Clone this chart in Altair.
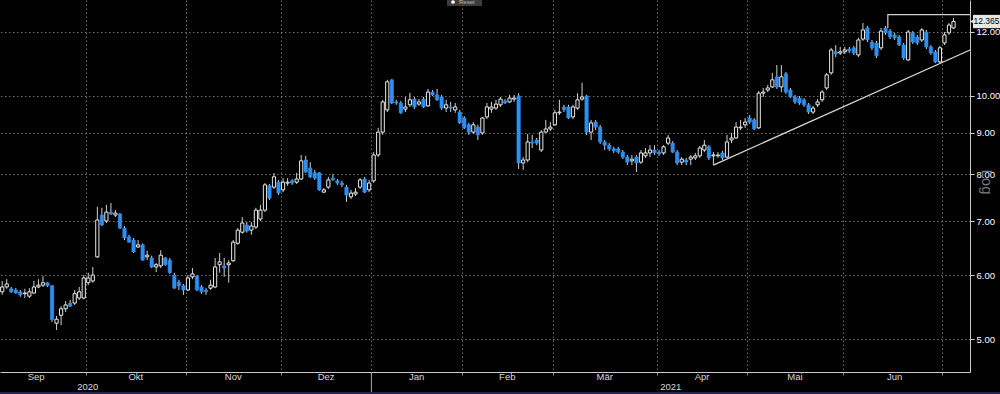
import altair as alt
import pandas as pd

# ---- candle data (trading-day index 0 = early Sep 2020) ----
opens = [5.72, 5.80, 5.77, 5.75, 5.72, 5.69, 5.65, 5.70, 5.80, 5.83,
         5.87, 5.82, 5.23, 5.35, 5.45, 5.54, 5.54, 5.62, 5.62, 5.87,
         5.90, 6.32, 7.12, 7.00, 7.18, 7.12, 7.14, 6.86, 6.69, 6.63,
         6.50, 6.54, 6.32, 6.30, 6.14, 6.16, 6.30, 6.26, 6.00, 5.88,
         5.82, 5.75, 5.97, 5.98, 5.80, 5.75, 5.78, 5.80, 6.18, 6.16,
         6.18, 6.25, 6.57, 6.78, 6.92, 6.82, 6.88, 7.04, 7.22, 7.74,
         7.71, 7.82, 7.65, 7.80, 7.85, 7.82, 7.89, 8.33, 8.14, 8.03,
         8.03, 7.60, 7.71, 7.91, 7.85, 7.80, 7.71, 7.50, 7.56, 7.71,
         7.89, 7.65, 7.85, 8.45, 9.02, 9.61, 10.47, 9.83, 9.80, 9.63,
         9.75, 9.91, 9.77, 9.91, 9.72, 10.11, 10.03, 9.97, 9.66, 9.69,
         9.61, 9.55, 9.39, 9.21, 9.02, 9.15, 9.00, 9.42, 9.63, 9.66,
         9.75, 9.86, 9.83, 9.91, 10.00, 8.26, 8.33, 8.77, 8.82, 8.57,
         9.02, 9.10, 9.21, 9.53, 9.69, 9.69, 9.42, 9.66, 9.91, 10.00,
         9.02, 9.28, 9.15, 8.77, 8.69, 8.60, 8.60, 8.52, 8.40, 8.31,
         8.40, 8.28, 8.43, 8.50, 8.57, 8.52, 8.50, 8.74, 8.74, 8.52,
         8.28, 8.33, 8.35, 8.38, 8.43, 8.57, 8.65, 8.43, 8.43, 8.50,
         8.40, 8.82, 8.87, 9.13, 9.21, 9.39, 9.34, 9.13, 10.08, 10.17,
         10.26, 10.56, 10.26, 10.65, 10.17, 9.97, 9.94, 9.89, 9.75, 9.55,
         9.75, 9.89, 10.23, 10.68, 11.34, 11.30, 11.34, 11.43, 11.47, 11.24,
         11.76, 12.14, 11.66, 11.63, 11.47, 12.14, 12.03, 11.90, 11.83, 11.56,
         11.08, 11.97, 11.83, 11.73, 12.00, 11.50, 11.34, 11.02, 11.63, 11.97,
         12.14]
highs = [5.90, 5.93, 5.80, 5.78, 5.75, 5.77, 5.78, 5.90, 5.93, 5.98,
         5.88, 5.83, 5.34, 5.49, 5.57, 5.59, 5.75, 5.80, 6.00, 6.04,
         6.14, 7.29, 7.27, 7.33, 7.37, 7.22, 7.16, 6.90, 6.73, 6.67,
         6.63, 6.57, 6.43, 6.34, 6.21, 6.44, 6.32, 6.30, 6.04, 5.92,
         5.85, 6.00, 6.12, 6.00, 5.83, 5.78, 5.92, 6.30, 6.39, 6.30,
         6.26, 6.63, 6.86, 7.08, 6.98, 6.98, 7.27, 7.33, 7.80, 7.78,
         8.03, 7.87, 7.91, 7.91, 7.89, 8.03, 8.45, 8.43, 8.28, 8.10,
         8.05, 7.69, 7.94, 8.00, 7.89, 7.85, 7.76, 7.65, 7.69, 7.91,
         7.94, 7.87, 8.52, 9.13, 9.89, 10.47, 10.49, 9.89, 9.86, 9.97,
         10.09, 9.97, 9.91, 9.97, 10.20, 10.17, 10.20, 10.03, 9.89, 9.83,
         9.80, 9.61, 9.44, 9.26, 9.28, 9.21, 9.42, 9.80, 9.83, 9.89,
         9.97, 9.91, 10.03, 10.03, 10.08, 8.40, 8.97, 8.95, 8.87, 9.07,
         9.34, 9.28, 9.61, 9.89, 9.75, 9.75, 9.75, 10.08, 10.38, 10.03,
         9.34, 9.34, 9.21, 8.82, 8.74, 8.65, 8.65, 8.57, 8.45, 8.45,
         8.45, 8.57, 8.62, 8.69, 8.69, 8.57, 8.69, 8.95, 8.79, 8.57,
         8.40, 8.38, 8.45, 8.50, 8.67, 8.82, 8.69, 8.52, 8.52, 8.55,
         8.95, 9.00, 9.28, 9.34, 9.39, 9.47, 9.39, 10.14, 10.23, 10.32,
         10.68, 10.92, 10.92, 10.71, 10.23, 10.03, 10.00, 9.94, 9.80, 9.72,
         9.91, 10.17, 10.68, 11.47, 11.56, 11.50, 11.50, 11.50, 11.53, 11.80,
         12.31, 12.21, 11.73, 11.70, 12.14, 12.21, 12.10, 11.97, 11.90, 11.63,
         12.07, 12.03, 11.90, 12.14, 12.07, 11.56, 11.40, 11.53, 12.00, 12.31,
         12.49]
lows = [5.67, 5.77, 5.70, 5.69, 5.64, 5.62, 5.62, 5.69, 5.78, 5.80,
        5.80, 5.25, 5.13, 5.20, 5.40, 5.48, 5.51, 5.59, 5.60, 5.83,
        5.87, 6.30, 6.90, 6.96, 7.12, 7.08, 6.84, 6.63, 6.58, 6.39,
        6.48, 6.25, 6.26, 6.12, 6.05, 6.12, 6.16, 6.02, 5.77, 5.75,
        5.67, 5.73, 5.93, 5.73, 5.69, 5.67, 5.75, 5.78, 6.04, 5.97,
        5.87, 6.23, 6.54, 6.75, 6.77, 6.73, 6.84, 7.00, 7.18, 7.43,
        7.67, 7.54, 7.60, 7.74, 7.76, 7.78, 7.87, 8.03, 7.91, 7.87,
        7.63, 7.58, 7.67, 7.85, 7.76, 7.71, 7.39, 7.45, 7.52, 7.67,
        7.58, 7.60, 7.80, 8.40, 8.95, 9.55, 9.77, 9.75, 9.50, 9.55,
        9.69, 9.63, 9.72, 9.66, 9.69, 10.00, 9.86, 9.61, 9.55, 9.55,
        9.53, 9.23, 9.10, 8.95, 8.97, 8.82, 8.95, 9.36, 9.53, 9.61,
        9.69, 9.77, 9.80, 9.83, 8.12, 8.10, 8.28, 8.62, 8.69, 8.52,
        9.00, 9.05, 9.18, 9.47, 9.55, 9.36, 9.36, 9.61, 9.86, 8.95,
        8.82, 9.07, 8.72, 8.57, 8.55, 8.50, 8.48, 8.35, 8.21, 8.21,
        8.05, 8.24, 8.38, 8.40, 8.45, 8.43, 8.45, 8.69, 8.50, 8.21,
        8.21, 8.21, 8.21, 8.33, 8.38, 8.52, 8.33, 8.21, 8.38, 8.33,
        8.38, 8.74, 8.85, 9.07, 9.13, 9.23, 9.07, 9.10, 9.97, 10.11,
        10.23, 10.20, 10.11, 10.06, 9.94, 9.77, 9.75, 9.69, 9.50, 9.50,
        9.69, 9.83, 10.17, 10.62, 11.17, 11.24, 11.27, 11.30, 11.24, 11.17,
        11.70, 11.66, 11.40, 11.14, 11.40, 11.90, 11.76, 11.73, 11.53, 11.08,
        11.05, 11.60, 11.56, 11.66, 11.43, 11.24, 10.98, 10.98, 11.56, 11.90,
        12.10]
closes = [5.80, 5.85, 5.72, 5.70, 5.67, 5.70, 5.72, 5.80, 5.83, 5.87,
          5.82, 5.28, 5.29, 5.45, 5.51, 5.49, 5.69, 5.72, 5.95, 5.95,
          6.00, 7.02, 6.92, 7.18, 7.14, 7.16, 6.86, 6.67, 6.59, 6.41,
          6.54, 6.26, 6.35, 6.14, 6.18, 6.35, 6.18, 6.04, 5.78, 5.82,
          5.75, 5.95, 6.02, 5.75, 5.72, 5.72, 5.83, 6.14, 6.23, 6.12,
          6.21, 6.59, 6.82, 6.96, 6.80, 6.90, 7.22, 7.22, 7.76, 7.47,
          7.94, 7.58, 7.82, 7.82, 7.80, 7.89, 8.31, 8.05, 7.94, 7.91,
          7.65, 7.65, 7.87, 7.87, 7.80, 7.76, 7.54, 7.58, 7.60, 7.87,
          7.60, 7.80, 8.45, 9.02, 9.83, 10.41, 9.80, 9.80, 9.53, 9.69,
          9.89, 9.69, 9.83, 9.69, 10.11, 10.03, 9.89, 9.66, 9.75, 9.66,
          9.69, 9.26, 9.13, 9.02, 9.21, 8.95, 9.39, 9.69, 9.69, 9.77,
          9.91, 9.80, 9.94, 9.94, 8.26, 8.33, 8.77, 8.74, 8.74, 9.02,
          9.10, 9.15, 9.53, 9.55, 9.61, 9.39, 9.69, 9.89, 9.97, 9.02,
          9.26, 9.15, 8.77, 8.69, 8.60, 8.55, 8.52, 8.40, 8.28, 8.35,
          8.26, 8.50, 8.50, 8.57, 8.50, 8.48, 8.65, 8.87, 8.52, 8.26,
          8.35, 8.28, 8.40, 8.43, 8.62, 8.69, 8.38, 8.45, 8.45, 8.38,
          8.77, 8.87, 9.15, 9.15, 9.28, 9.28, 9.10, 10.08, 10.11, 10.23,
          10.47, 10.26, 10.56, 10.11, 9.97, 9.83, 9.80, 9.75, 9.55, 9.66,
          9.83, 10.11, 10.62, 11.40, 11.27, 11.34, 11.40, 11.37, 11.30, 11.73,
          12.07, 11.73, 11.47, 11.21, 12.03, 11.97, 11.83, 11.80, 11.56, 11.14,
          12.00, 11.66, 11.63, 12.07, 11.50, 11.30, 11.02, 11.47, 11.90, 12.24,
          12.365]

month_names = ["Sep", "Okt", "Nov", "Dez", "Jan", "Feb", "Mär", "Apr", "Mai", "Jun"]
month_centers = [7.5, 29.5, 51, 71.5, 91.5, 111.5, 133, 154.5, 175, 197]
month_bounds = [18.5, 40.5, 61.5, 81.5, 101.5, 121.5, 144.5, 164.5, 185.5, 207.5]
year_labels = ["2020", "2021"]
year_pos = [18.9, 147.6]
year_split = [81.5]
y_ticks = [5, 6, 7, 8, 9, 10, 12]
last_price = 12.365
trend_i = [157, 213.64]
trend_p = [8.21, 11.40]
res_i = [195.5, 195.5, 213.64]
res_p = [12.14, 12.61, 12.61]

BLUE = "#2e8ff0"

n = len(closes)
df = pd.DataFrame({"i": list(range(n)), "o": opens, "h": highs, "l": lows, "c": closes})

xs = alt.Scale(domain=[-0.486, 213.64], nice=False, zero=False, padding=0)
ys = alt.Scale(type="log", domain=[4.551, 13.146], nice=False)

x_axis = alt.Axis(values=month_bounds, grid=True, gridDash=[1.5, 2.5], gridColor="#6e6e6e",
                  labels=False, ticks=True, tickSize=3, tickColor="#8a8a8a",
                  domainColor="#c8c8c8", title=None)
y_axis = alt.Axis(orient="right", values=y_ticks, format=".2f", grid=True,
                  gridDash=[1.5, 2.5], gridColor="#6e6e6e", labelColor="#ffffff",
                  labelFontSize=9.5, labelFont="Liberation Sans", tickColor="#d0d0d0",
                  tickSize=4, labelPadding=2, domainColor="#c8c8c8", title=None)


def X(f="i"):
    return alt.X(f"{f}:Q", scale=xs, axis=x_axis)


def Y(f):
    return alt.Y(f"{f}:Q", scale=ys, axis=y_axis)


base = alt.Chart(df)
wicks = base.mark_rule(color="#d0d0d0", strokeWidth=1).encode(x=X(), y=Y("l"), y2="h:Q")
up = base.transform_filter("datum.c >= datum.o").mark_bar(
    size=3.2, fill="#000000", stroke="#e8e8e8", strokeWidth=1
).encode(x=X(), y=Y("o"), y2="c:Q")
down = base.transform_filter("datum.c < datum.o").mark_bar(
    size=3.4, fill=BLUE, stroke=BLUE, strokeWidth=0.6
).encode(x=X(), y=Y("o"), y2="c:Q")

trend = alt.Chart(pd.DataFrame({"i": trend_i, "p": trend_p})).mark_line(
    color="#d8d8d8", strokeWidth=1.3).encode(x=X(), y=Y("p"))
res = alt.Chart(pd.DataFrame({"i": res_i, "p": res_p, "k": [0, 1, 2]})).mark_line(
    color="#cfcfcf", strokeWidth=1.2).encode(x=X(), y=Y("p"), order="k:Q")

months = alt.Chart(pd.DataFrame({"i": month_centers, "t": month_names})).mark_text(
    color="#d8d8d8", fontSize=9.5, baseline="middle", font="Liberation Sans"
).encode(x=X(), y=alt.value(377), text="t:N")
years = alt.Chart(pd.DataFrame({"i": year_pos, "t": year_labels})).mark_text(
    color="#d8d8d8", fontSize=9.5, baseline="middle", font="Liberation Sans"
).encode(x=X(), y=alt.value(387), text="t:N")
ysep = alt.Chart(pd.DataFrame({"i": year_split})).mark_rule(color="#aaaaaa").encode(
    x=X(), y=alt.value(372), y2=alt.value(394))
strip = alt.Chart(pd.DataFrame({"a": [0]})).mark_rule(color="#24244e", strokeWidth=2).encode(
    x=alt.value(0), x2=alt.value(1000), y=alt.value(393))

lp_box = alt.Chart(pd.DataFrame({"p": [12.60], "p2": [12.13]})).mark_rect(fill="#e6e6e6").encode(
    x=alt.value(973), x2=alt.value(1000), y=Y("p"), y2="p2:Q")
lp_arrow = alt.Chart(pd.DataFrame({"p": [last_price]})).mark_point(
    shape="triangle-left", filled=True, color="#e6e6e6", size=18, opacity=1
).encode(x=alt.value(972), y=Y("p"))
lp_txt = alt.Chart(pd.DataFrame({"p": [last_price], "t": ["12.365"]})).mark_text(
    color="#000000", fontSize=8.5, align="center", baseline="middle", font="Liberation Sans"
).encode(x=alt.value(986.5), y=Y("p"), text="t:N")

log_txt = alt.Chart(pd.DataFrame({"a": [0]})).mark_text(
    text="Log", angle=90, fontSize=15, color="#7a7a7a", font="Liberation Sans"
).encode(x=alt.value(987), y=alt.value(182))

reset_box = alt.Chart(pd.DataFrame({"a": [0]})).mark_rect(fill="#3c3c3c").encode(
    x=alt.value(447), x2=alt.value(482), y=alt.value(0), y2=alt.value(6))
reset_txt = alt.Chart(pd.DataFrame({"a": [0]})).mark_text(
    text="Reset", fontSize=6, color="#bbbbbb", align="left", baseline="middle"
).encode(x=alt.value(459), y=alt.value(2))
reset_dot = alt.Chart(pd.DataFrame({"a": [0]})).mark_circle(size=14, color="#ffffff", opacity=1).encode(
    x=alt.value(453), y=alt.value(2))

chart = alt.layer(
    wicks, up, down, trend, res, months, years, ysep, strip,
    lp_box, lp_arrow, lp_txt, log_txt, reset_box, reset_txt, reset_dot
).properties(
    width=970, height=372,
    padding={"left": 0, "right": 30, "top": 0, "bottom": 22},
    autosize=alt.AutoSizeParams(type="none"),
    background="#000000",
).configure_view(stroke=None)

chart.save("out.html", embed_options={"renderer": "svg", "actions": False})
